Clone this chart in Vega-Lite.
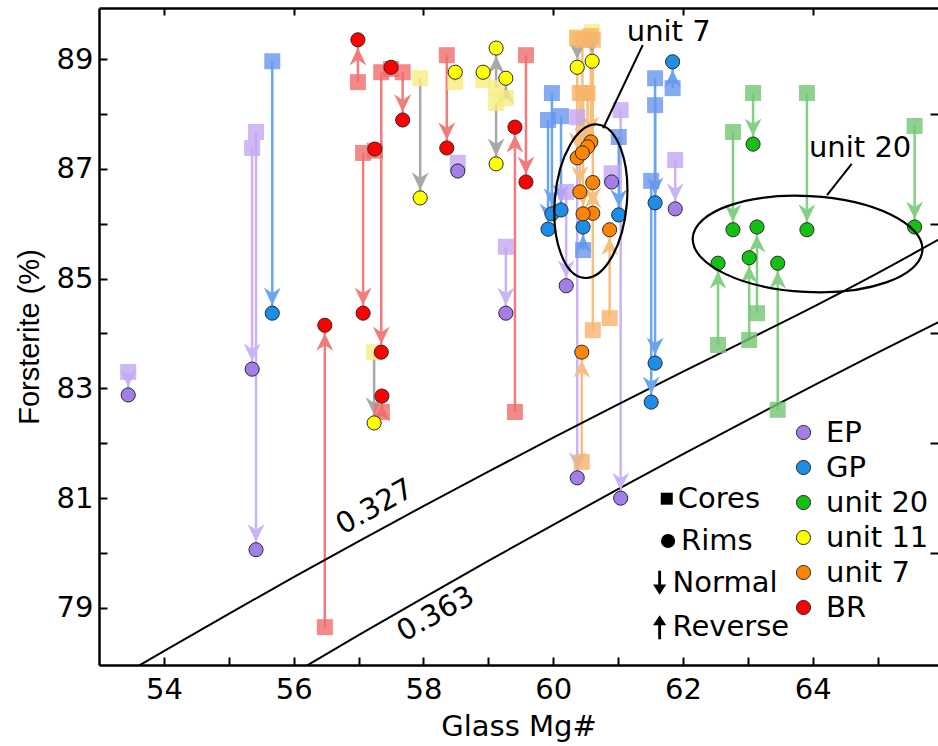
{
  "$schema": "https://vega.github.io/schema/vega-lite/v6.json",
  "width": 839,
  "height": 657,
  "autosize": {"type": "none"},
  "padding": {"left": 99, "top": 8, "right": 0, "bottom": 81},
  "background": "white",
  "config": {"view": {"stroke": null}, "font": "DejaVu Sans"},
  "datasets": {
    "pairs": [
      {"g": "EP", "x": 53.45, "core": 83.30, "rim": 82.88, "dir": "N"},
      {"g": "EP", "x": 55.36, "core": 87.38, "rim": 83.35, "dir": "N"},
      {"g": "EP", "x": 55.42, "core": 87.67, "rim": 80.06, "dir": "N"},
      {"g": "EP", "x": 58.53, "core": 87.11, "rim": 86.96, "dir": "N"},
      {"g": "EP", "x": 59.27, "core": 85.58, "rim": 84.37, "dir": "N"},
      {"g": "EP", "x": 60.20, "core": 86.58, "rim": 84.87, "dir": "N"},
      {"g": "EP", "x": 60.37, "core": 87.94, "rim": 81.37, "dir": "N"},
      {"g": "EP", "x": 61.04, "core": 88.07, "rim": 81.00, "dir": "N"},
      {"g": "EP", "x": 60.90, "core": 86.92, "rim": 86.76, "dir": "N"},
      {"g": "EP", "x": 61.88, "core": 87.16, "rim": 86.27, "dir": "N"},
      {"g": "GP", "x": 55.67, "core": 88.96, "rim": 84.37, "dir": "N"},
      {"g": "GP", "x": 59.92, "core": 87.89, "rim": 85.90, "dir": "N"},
      {"g": "GP", "x": 59.98, "core": 88.38, "rim": 86.18, "dir": "N"},
      {"g": "GP", "x": 60.12, "core": 87.96, "rim": 86.25, "dir": "N"},
      {"g": "GP", "x": 61.01, "core": 87.58, "rim": 86.16, "dir": "N"},
      {"g": "GP", "x": 61.57, "core": 88.65, "rim": 83.46, "dir": "N"},
      {"g": "GP", "x": 61.57, "core": 88.16, "rim": 86.38, "dir": "N"},
      {"g": "GP", "x": 61.51, "core": 86.78, "rim": 82.75, "dir": "N"},
      {"g": "GP", "x": 61.84, "core": 88.47, "rim": 88.95, "dir": "R"},
      {"g": "GP", "x": 60.46, "core": 85.52, "rim": 85.94, "dir": "R"},
      {"g": "unit 20", "x": 63.08, "core": 88.38, "rim": 87.45, "dir": "N"},
      {"g": "unit 20", "x": 62.77, "core": 87.67, "rim": 85.89, "dir": "N"},
      {"g": "unit 20", "x": 63.91, "core": 88.38, "rim": 85.89, "dir": "N"},
      {"g": "unit 20", "x": 65.57, "core": 87.78, "rim": 85.94, "dir": "N"},
      {"g": "unit 20", "x": 63.14, "core": 84.37, "rim": 85.94, "dir": "R"},
      {"g": "unit 20", "x": 62.54, "core": 83.79, "rim": 85.28, "dir": "R"},
      {"g": "unit 20", "x": 63.02, "core": 83.88, "rim": 85.38, "dir": "R"},
      {"g": "unit 20", "x": 63.46, "core": 82.61, "rim": 85.28, "dir": "R"},
      {"g": "unit 11", "x": 57.95, "core": 88.65, "rim": 86.47, "dir": "N"},
      {"g": "unit 11", "x": 57.24, "core": 83.66, "rim": 82.37, "dir": "N"},
      {"g": "unit 11", "x": 58.49, "core": 88.58, "rim": 88.76, "dir": "R"},
      {"g": "unit 11", "x": 58.92, "core": 88.62, "rim": 88.76, "dir": "R"},
      {"g": "unit 11", "x": 59.12, "core": 88.47, "rim": 89.20, "dir": "R"},
      {"g": "unit 11", "x": 59.27, "core": 88.29, "rim": 88.65, "dir": "R"},
      {"g": "unit 11", "x": 59.12, "core": 88.20, "rim": 87.09, "dir": "N"},
      {"g": "unit 11", "x": 60.37, "core": 89.40, "rim": 88.85, "dir": "N"},
      {"g": "unit 11", "x": 60.60, "core": 89.49, "rim": 88.96, "dir": "N"},
      {"g": "unit 7", "x": 60.37, "core": 89.38, "rim": 87.20, "dir": "N"},
      {"g": "unit 7", "x": 60.58, "core": 89.42, "rim": 87.49, "dir": "N"},
      {"g": "unit 7", "x": 60.41, "core": 88.38, "rim": 86.58, "dir": "N"},
      {"g": "unit 7", "x": 60.53, "core": 88.38, "rim": 87.40, "dir": "N"},
      {"g": "unit 7", "x": 60.45, "core": 89.35, "rim": 87.29, "dir": "N"},
      {"g": "unit 7", "x": 60.61, "core": 89.35, "rim": 86.19, "dir": "N"},
      {"g": "unit 7", "x": 60.46, "core": 88.38, "rim": 86.18, "dir": "N"},
      {"g": "unit 7", "x": 60.61, "core": 84.06, "rim": 86.75, "dir": "R"},
      {"g": "unit 7", "x": 60.87, "core": 84.28, "rim": 85.89, "dir": "R"},
      {"g": "unit 7", "x": 60.44, "core": 81.66, "rim": 83.66, "dir": "R"},
      {"g": "BR", "x": 56.99, "core": 88.58, "rim": 89.35, "dir": "R"},
      {"g": "BR", "x": 57.68, "core": 88.76, "rim": 87.89, "dir": "N"},
      {"g": "BR", "x": 57.35, "core": 88.76, "rim": 83.66, "dir": "N"},
      {"g": "BR", "x": 57.50, "core": 88.82, "rim": 88.85, "dir": "N"},
      {"g": "BR", "x": 57.36, "core": 82.57, "rim": 82.86, "dir": "R"},
      {"g": "BR", "x": 57.07, "core": 87.29, "rim": 84.37, "dir": "N"},
      {"g": "BR", "x": 57.25, "core": 87.33, "rim": 87.36, "dir": "N"},
      {"g": "BR", "x": 56.48, "core": 78.65, "rim": 84.15, "dir": "R"},
      {"g": "BR", "x": 58.36, "core": 89.07, "rim": 87.38, "dir": "N"},
      {"g": "BR", "x": 59.58, "core": 89.07, "rim": 86.76, "dir": "N"},
      {"g": "BR", "x": 59.41, "core": 82.57, "rim": 87.76, "dir": "R"}
    ],
    "kd": [
      {"k": "0.327", "mg": 53.5, "fo": 77.869},
      {"k": "0.327", "mg": 54, "fo": 78.213},
      {"k": "0.327", "mg": 55, "fo": 78.893},
      {"k": "0.327", "mg": 56, "fo": 79.559},
      {"k": "0.327", "mg": 57, "fo": 80.213},
      {"k": "0.327", "mg": 58, "fo": 80.855},
      {"k": "0.327", "mg": 59, "fo": 81.484},
      {"k": "0.327", "mg": 60, "fo": 82.102},
      {"k": "0.327", "mg": 61, "fo": 82.709},
      {"k": "0.327", "mg": 62, "fo": 83.304},
      {"k": "0.327", "mg": 63, "fo": 83.889},
      {"k": "0.327", "mg": 64, "fo": 84.48},
      {"k": "0.327", "mg": 65, "fo": 85.10},
      {"k": "0.327", "mg": 66, "fo": 85.75},
      {"k": "0.363", "mg": 56, "fo": 77.808},
      {"k": "0.363", "mg": 57, "fo": 78.503},
      {"k": "0.363", "mg": 58, "fo": 79.185},
      {"k": "0.363", "mg": 59, "fo": 79.856},
      {"k": "0.363", "mg": 60, "fo": 80.515},
      {"k": "0.363", "mg": 61, "fo": 81.164},
      {"k": "0.363", "mg": 62, "fo": 81.801},
      {"k": "0.363", "mg": 63, "fo": 82.427},
      {"k": "0.363", "mg": 64, "fo": 83.044},
      {"k": "0.363", "mg": 65, "fo": 83.650},
      {"k": "0.363", "mg": 66, "fo": 84.246}
    ]
  },
  "layer": [
    {
      "data": {"name": "pairs"},
      "mark": {"type": "rule", "strokeWidth": 2.5},
      "encoding": {
        "x": {"field": "x", "type": "quantitative", "scale": {"domain": [53, 65.93], "nice": false, "zero": false},
          "axis": {"orient": "bottom", "values": [54, 55, 56, 57, 58, 59, 60, 61, 62, 63, 64, 65], "labelExpr": "datum.value % 2 === 0 ? datum.label : ''",
            "tickSize": -8, "tickWidth": 2, "tickColor": "black", "domainColor": "black", "domainWidth": 2.5, "grid": false,
            "labelFont": "DejaVu Sans", "labelFontSize": 29, "labelColor": "black", "labelPadding": 18, "labelFlush": false, "labelOverlap": false,
            "title": "Glass Mg#", "titleFont": "DejaVu Sans", "titleFontSize": 29, "titleFontWeight": "normal", "titleColor": "black", "titlePadding": 8}},
        "y": {"field": "core", "type": "quantitative", "scale": {"domain": [77.96, 89.93], "nice": false, "zero": false},
          "axis": {"orient": "left", "values": [79, 80, 81, 82, 83, 84, 85, 86, 87, 88, 89], "labelExpr": "datum.value % 2 === 1 ? datum.label : ''",
            "tickSize": -8, "tickWidth": 2, "tickColor": "black", "domainColor": "black", "domainWidth": 2.5, "grid": false,
            "labelFont": "DejaVu Sans", "labelFontSize": 29, "labelColor": "black", "labelPadding": 14, "labelFlush": false, "labelOverlap": false,
            "title": "Forsterite (%)", "titleFont": "Liberation Sans", "titleFontSize": 29, "titleFontWeight": "normal", "titleColor": "black", "titlePadding": 12}},
        "y2": {"field": "rim"},
        "stroke": {"field": "g", "type": "nominal",
          "scale": {"domain": ["EP", "GP", "unit 20", "unit 11", "unit 7", "BR"], "range": ["#c8b4f6", "#6aa6f0", "#84d084", "#a8a8a8", "#f6c07c", "#f07c7c"]},
          "legend": null}
      }
    },
    {
      "data": {"name": "kd"},
      "mark": {"type": "line", "color": "black", "strokeWidth": 2, "clip": true, "interpolate": "monotone"},
      "encoding": {
        "x": {"field": "mg", "type": "quantitative",
          "axis": {"orient": "top", "values": [54, 56, 58, 60, 62, 64], "labels": false, "tickSize": -7, "tickWidth": 2, "tickColor": "black", "domainColor": "black", "domainWidth": 2.5, "title": null, "grid": false}},
        "y": {"field": "fo", "type": "quantitative",
          "axis": {"orient": "right", "values": [80, 82, 84, 86, 88], "labels": false, "domain": false, "tickSize": -8, "tickWidth": 2, "tickColor": "black", "title": null, "grid": false}},
        "detail": {"field": "k", "type": "nominal"}
      }
    },
    {
      "data": {"name": "pairs"},
      "transform": [{"filter": "abs(datum.core - datum.rim) > 0.25"}],
      "mark": {"type": "point", "filled": true, "size": 256, "opacity": 1, "strokeWidth": 0},
      "encoding": {
        "x": {"field": "x", "type": "quantitative", "axis": null},
        "y": {"field": "rim", "type": "quantitative", "axis": null},
        "shape": {"field": "dir", "type": "nominal",
          "scale": {"domain": ["N", "R"], "range": ["M0,-1 L-1.06,-3.2 L0,-2.5 L1.06,-3.2 Z", "M0,1 L-1.06,3.2 L0,2.5 L1.06,3.2 Z"]},
          "legend": null},
        "fill": {"field": "g", "type": "nominal",
          "scale": {"domain": ["EP", "GP", "unit 20", "unit 11", "unit 7", "BR"], "range": ["#c8b4f6", "#6aa6f0", "#84d084", "#a8a8a8", "#f6c07c", "#f07c7c"]},
          "legend": null}
      }
    },
    {
      "data": {"name": "pairs"},
      "mark": {"type": "point", "shape": "square", "filled": true, "size": 256, "opacity": 1, "fillOpacity": 0.8, "strokeWidth": 0},
      "encoding": {
        "x": {"field": "x", "type": "quantitative", "axis": null},
        "y": {"field": "core", "type": "quantitative", "axis": null},
        "fill": {"field": "g", "type": "nominal",
          "scale": {"domain": ["EP", "GP", "unit 20", "unit 11", "unit 7", "BR"], "range": ["#c4a6f2", "#6896ee", "#74c674", "#f6ee80", "#f6b46c", "#f06c6c"]},
          "legend": null}
      }
    },
    {
      "data": {"name": "pairs"},
      "mark": {"type": "point", "shape": "circle", "filled": true, "size": 200, "opacity": 1, "stroke": "#2a2a2a", "strokeWidth": 1},
      "encoding": {
        "x": {"field": "x", "type": "quantitative", "axis": null},
        "y": {"field": "rim", "type": "quantitative", "axis": null},
        "fill": {"field": "g", "type": "nominal",
          "scale": {"domain": ["EP", "GP", "unit 20", "unit 11", "unit 7", "BR"], "range": ["#a47ee8", "#1c8ee8", "#14c014", "#ffff00", "#ff8400", "#ff0000"]},
          "legend": {"title": null, "orient": "none", "legendX": 690, "legendY": 410, "padding": 0,
            "labelFont": "DejaVu Sans", "labelFontSize": 29, "labelColor": "black", "labelOffset": 8,
            "symbolType": "circle", "symbolSize": 200, "symbolStrokeColor": "#2a2a2a", "symbolStrokeWidth": 1, "symbolOpacity": 1, "rowPadding": 5}}
      }
    },
    {
      "data": {"values": [{}]},
      "mark": {"type": "point", "shape": "M0,-1 A0.468,1 0 1,1 0,1 A0.468,1 0 1,1 0,-1 Z", "size": 23716, "angle": 5, "filled": false, "opacity": 1, "stroke": "black", "strokeWidth": 2.2},
      "encoding": {
        "x": {"datum": 60.58, "type": "quantitative", "axis": null},
        "y": {"datum": 86.41, "type": "quantitative", "axis": null}
      }
    },
    {
      "data": {"values": [{}]},
      "mark": {"type": "point", "shape": "M-1,0 A1,0.417 0 1,1 1,0 A1,0.417 0 1,1 -1,0 Z", "size": 52900, "angle": 3, "filled": false, "opacity": 1, "stroke": "black", "strokeWidth": 2.2},
      "encoding": {
        "x": {"datum": 63.92, "type": "quantitative", "axis": null},
        "y": {"datum": 85.63, "type": "quantitative", "axis": null}
      }
    },
    {
      "data": {"values": [{}]},
      "mark": {"type": "rule", "color": "black", "strokeWidth": 2},
      "encoding": {
        "x": {"datum": 61.38, "type": "quantitative", "axis": null},
        "y": {"datum": 89.255, "type": "quantitative", "axis": null},
        "x2": {"datum": 60.77},
        "y2": {"datum": 87.74}
      }
    },
    {
      "data": {"values": [{}]},
      "mark": {"type": "rule", "color": "black", "strokeWidth": 2},
      "encoding": {
        "x": {"datum": 64.60, "type": "quantitative", "axis": null},
        "y": {"datum": 87.09, "type": "quantitative", "axis": null},
        "x2": {"datum": 64.22},
        "y2": {"datum": 86.52}
      }
    },
    {
      "data": {"values": [{}]},
      "mark": {"type": "text", "text": "unit 7", "font": "DejaVu Sans", "fontSize": 29, "color": "black", "align": "center", "baseline": "middle"},
      "encoding": {
        "x": {"datum": 61.78, "type": "quantitative", "axis": null},
        "y": {"datum": 89.49, "type": "quantitative", "axis": null}
      }
    },
    {
      "data": {"values": [{}]},
      "mark": {"type": "text", "text": "unit 20", "font": "DejaVu Sans", "fontSize": 29, "color": "black", "align": "center", "baseline": "middle"},
      "encoding": {
        "x": {"datum": 64.73, "type": "quantitative", "axis": null},
        "y": {"datum": 87.38, "type": "quantitative", "axis": null}
      }
    },
    {
      "data": {"values": [{}]},
      "mark": {"type": "text", "text": "0.327", "font": "DejaVu Sans", "fontSize": 29, "color": "black", "align": "center", "baseline": "middle", "angle": 331},
      "encoding": {
        "x": {"datum": 57.25, "type": "quantitative", "axis": null},
        "y": {"datum": 80.84, "type": "quantitative", "axis": null}
      }
    },
    {
      "data": {"values": [{}]},
      "mark": {"type": "text", "text": "0.363", "font": "DejaVu Sans", "fontSize": 29, "color": "black", "align": "center", "baseline": "middle", "angle": 331},
      "encoding": {
        "x": {"datum": 58.19, "type": "quantitative", "axis": null},
        "y": {"datum": 78.89, "type": "quantitative", "axis": null}
      }
    },
    {
      "data": {"values": [{}]},
      "mark": {"type": "point", "shape": "square", "filled": true, "color": "black", "size": 144, "opacity": 1},
      "encoding": {
        "x": {"datum": 61.75, "type": "quantitative", "axis": null},
        "y": {"datum": 80.99, "type": "quantitative", "axis": null}
      }
    },
    {
      "data": {"values": [{}]},
      "mark": {"type": "point", "shape": "circle", "filled": true, "color": "black", "size": 200, "opacity": 1},
      "encoding": {
        "x": {"datum": 61.77, "type": "quantitative", "axis": null},
        "y": {"datum": 80.22, "type": "quantitative", "axis": null}
      }
    },
    {
      "data": {"values": [{}]},
      "mark": {"type": "point", "shape": "M-0.12,-1 L0.12,-1 L0.12,0.15 L0.55,0.15 L0,1 L-0.55,0.15 L-0.12,0.15 Z", "filled": true, "color": "black", "size": 576, "opacity": 1},
      "encoding": {
        "x": {"datum": 61.64, "type": "quantitative", "axis": null},
        "y": {"datum": 79.46, "type": "quantitative", "axis": null}
      }
    },
    {
      "data": {"values": [{}]},
      "mark": {"type": "point", "shape": "M-0.12,1 L0.12,1 L0.12,-0.15 L0.55,-0.15 L0,-1 L-0.55,-0.15 L-0.12,-0.15 Z", "filled": true, "color": "black", "size": 576, "opacity": 1},
      "encoding": {
        "x": {"datum": 61.64, "type": "quantitative", "axis": null},
        "y": {"datum": 78.65, "type": "quantitative", "axis": null}
      }
    },
    {
      "data": {"values": [{"t": "Cores"}]},
      "mark": {"type": "text", "font": "DejaVu Sans", "fontSize": 29, "color": "black", "align": "left", "baseline": "middle"},
      "encoding": {
        "x": {"datum": 61.92, "type": "quantitative", "axis": null},
        "y": {"datum": 80.99, "type": "quantitative", "axis": null},
        "text": {"field": "t"}
      }
    },
    {
      "data": {"values": [{"t": "Rims"}]},
      "mark": {"type": "text", "font": "DejaVu Sans", "fontSize": 29, "color": "black", "align": "left", "baseline": "middle"},
      "encoding": {
        "x": {"datum": 61.97, "type": "quantitative", "axis": null},
        "y": {"datum": 80.22, "type": "quantitative", "axis": null},
        "text": {"field": "t"}
      }
    },
    {
      "data": {"values": [{"t": "Normal"}]},
      "mark": {"type": "text", "font": "DejaVu Sans", "fontSize": 29, "color": "black", "align": "left", "baseline": "middle"},
      "encoding": {
        "x": {"datum": 61.84, "type": "quantitative", "axis": null},
        "y": {"datum": 79.46, "type": "quantitative", "axis": null},
        "text": {"field": "t"}
      }
    },
    {
      "data": {"values": [{"t": "Reverse"}]},
      "mark": {"type": "text", "font": "DejaVu Sans", "fontSize": 29, "color": "black", "align": "left", "baseline": "middle"},
      "encoding": {
        "x": {"datum": 61.84, "type": "quantitative", "axis": null},
        "y": {"datum": 78.65, "type": "quantitative", "axis": null},
        "text": {"field": "t"}
      }
    }
  ],
  "resolve": {
    "scale": {"fill": "independent", "shape": "independent"},
    "axis": {"x": "independent", "y": "independent"},
    "legend": {"fill": "independent"}
  }
}
